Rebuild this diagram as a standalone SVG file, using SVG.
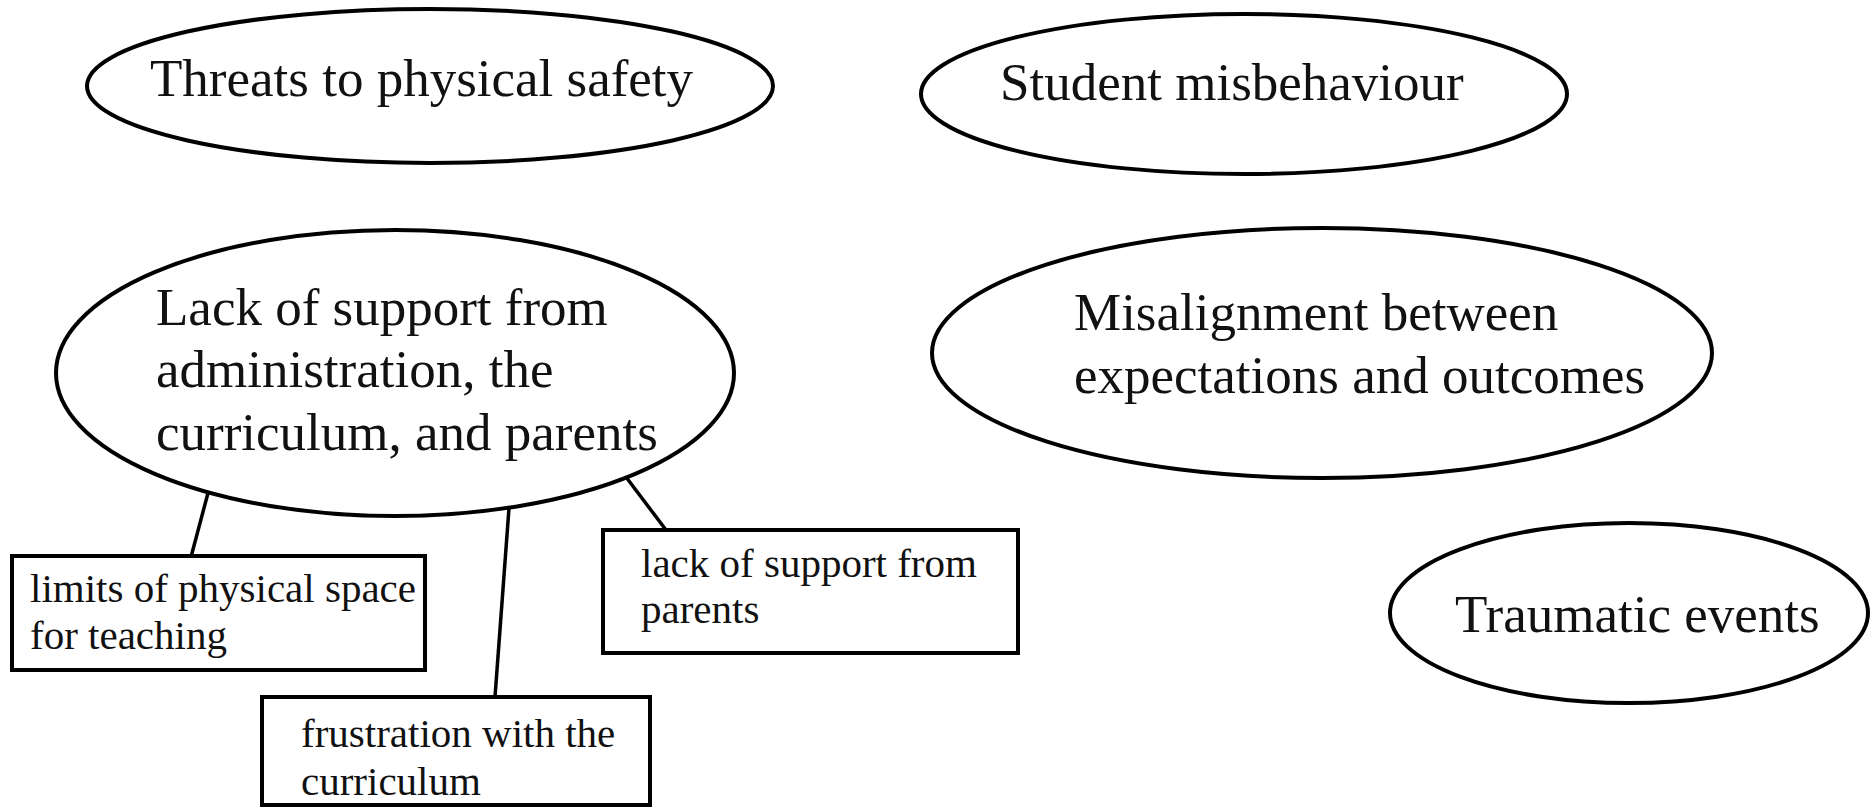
<svg xmlns="http://www.w3.org/2000/svg" width="1873" height="807" viewBox="0 0 1873 807">
<style>
.el{fill:none;stroke:#000;stroke-width:4}
.bx{fill:#fff;stroke:#000;stroke-width:4}
.ln{stroke:#000;stroke-width:3.5;fill:none}
.big{font-family:"Liberation Serif","Times New Roman",serif;font-size:53px;fill:#111}
.sm{font-family:"Liberation Serif","Times New Roman",serif;font-size:41px;fill:#111}
</style>
<rect width="1873" height="807" fill="#fff"/>
<g id="connectors">
<line class="ln" x1="208" y1="493" x2="191" y2="557"/>
<line class="ln" x1="509" y1="508" x2="495" y2="697"/>
<line class="ln" x1="626" y1="477" x2="666" y2="530"/>
</g>
<g id="threats">
<ellipse class="el" cx="430" cy="86" rx="343" ry="77"/>
<text class="big" x="150" y="96" font-size="52.5">Threats to physical safety</text>
</g>
<g id="student">
<ellipse class="el" cx="1244" cy="94" rx="323" ry="80"/>
<text class="big" x="1000" y="100">Student misbehaviour</text>
</g>
<g id="lack">
<ellipse class="el" cx="395" cy="373" rx="339" ry="143"/>
<text class="big" x="156" y="325">Lack of support from</text>
<text class="big" x="156" y="387">administration, the</text>
<text class="big" x="156" y="450">curriculum, and parents</text>
</g>
<g id="misalignment">
<ellipse class="el" cx="1322" cy="353" rx="390" ry="125"/>
<text class="big" x="1074" y="330">Misalignment between</text>
<text class="big" x="1074" y="393">expectations and outcomes</text>
</g>
<g id="traumatic">
<ellipse class="el" cx="1629" cy="613" rx="239" ry="90"/>
<text class="big" x="1455" y="632">Traumatic events</text>
</g>
<g id="limits">
<rect class="bx" x="12" y="556" width="413" height="114"/>
<text class="sm" x="30" y="602">limits of physical space</text>
<text class="sm" x="30" y="649">for teaching</text>
</g>
<g id="frustration">
<rect class="bx" x="262" y="697" width="388" height="108"/>
<text class="sm" x="301" y="747">frustration with the</text>
<text class="sm" x="301" y="795">curriculum</text>
</g>
<g id="parents">
<rect class="bx" x="603" y="530" width="415" height="123"/>
<text class="sm" x="641" y="577">lack of support from</text>
<text class="sm" x="641" y="623">parents</text>
</g>
</svg>
